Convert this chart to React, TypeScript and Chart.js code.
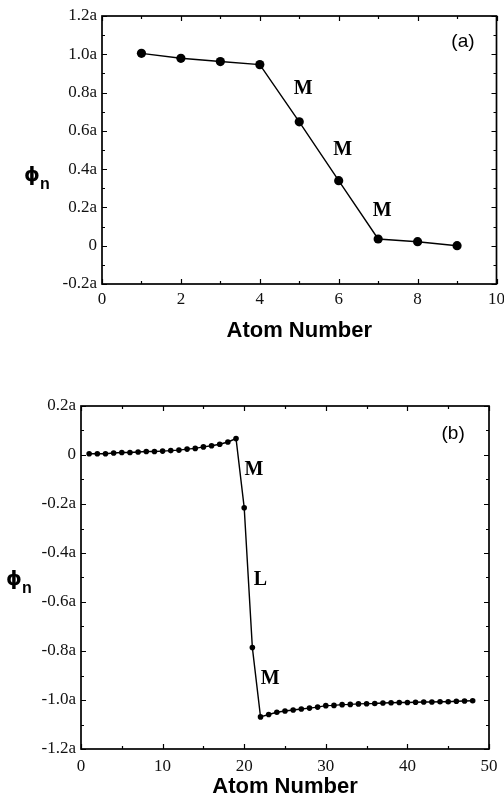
import { useEffect, useRef } from "react";
import { Chart, registerables } from "chart.js";

Chart.register(...registerables);

// Panel (a): short chain
const atomsA = [1, 2, 3, 4, 5, 6, 7, 8, 9];
const phiA = [1.005, 0.979, 0.962, 0.946, 0.647, 0.34, 0.035, 0.021, 0.0];

// Panel (b): long chain
const atomsB = [
  1, 2, 3, 4, 5, 6, 7, 8, 9, 10, 11, 12, 13, 14, 15, 16, 17, 18, 19, 20, 21, 22, 23, 24,
  25, 26, 27, 28, 29, 30, 31, 32, 33, 34, 35, 36, 37, 38, 39, 40, 41, 42, 43, 44, 45, 46, 47, 48,
];
const phiB = [
  0.005, 0.005, 0.005, 0.008, 0.01, 0.01, 0.012, 0.014, 0.014, 0.016, 0.018, 0.02, 0.024,
  0.027, 0.033, 0.038, 0.044, 0.053, 0.067, -0.215, -0.786, -1.069, -1.059, -1.05, -1.045,
  -1.041, -1.037, -1.033, -1.029, -1.023, -1.022, -1.019, -1.018, -1.016, -1.015, -1.014,
  -1.012, -1.011, -1.01, -1.01, -1.009, -1.008, -1.008, -1.007, -1.007, -1.005, -1.004, -1.003,
];

// Axis ranges: [min, max, major step, minor step]
const xRangeA = [0, 10, 2, 1];
const yRangeA = [-0.2, 1.2, 0.2, 0.1];
const xRangeB = [0, 50, 10, 5];
const yRangeB = [-1.2, 0.2, 0.2, 0.1];

const xTitle = "Atom Number";

// Segment labels, in data coordinates
const labelsA = [
  { text: "M", x: 5.1, y: 0.82 },
  { text: "M", x: 6.1, y: 0.5 },
  { text: "M", x: 7.1, y: 0.18 },
];
const labelsB = [
  { text: "M", x: 21.2, y: -0.06 },
  { text: "L", x: 22.0, y: -0.51 },
  { text: "M", x: 23.2, y: -0.915 },
];
const panelTagA = { text: "(a)", x: 9.15, y: 1.065 };
const panelTagB = { text: "(b)", x: 45.6, y: 0.088 };

const SERIF = "'Liberation Serif', 'Times New Roman', serif";
const SANS = "'Liberation Sans', Arial, sans-serif";

type PanelOpts = {
  xr: number[];
  yr: number[];
  labels: { text: string; x: number; y: number }[];
  tag: { text: string; x: number; y: number };
  phiPos: { x: number; y: number };
};

const near = (a: number, b: number) => Math.abs(a - b) < 1e-6;

const panelPlugin = {
  id: "panelDecor",
  afterDraw(chart: any, _args: any, opts: PanelOpts) {
    const { ctx, chartArea: a, scales } = chart;
    const xs = scales.x;
    const ys = scales.y;
    ctx.save();
    ctx.strokeStyle = "#000";
    ctx.fillStyle = "#000";

    // frame
    ctx.lineWidth = 1.7;
    ctx.strokeRect(a.left, a.top, a.right - a.left, a.bottom - a.top);

    // inward tick marks on all four sides
    ctx.lineWidth = 1.2;
    const [x0, x1, xs0, xm] = opts.xr;
    for (let i = 0; x0 + i * xm <= x1 + 1e-9; i++) {
      const v = x0 + i * xm;
      const isMajor = near(Math.round(v / xs0) * xs0, v);
      const len = isMajor ? 5 : 3;
      const px = Math.round(xs.getPixelForValue(v)) + 0.5;
      ctx.beginPath();
      ctx.moveTo(px, a.bottom);
      ctx.lineTo(px, a.bottom - len);
      ctx.moveTo(px, a.top);
      ctx.lineTo(px, a.top + len);
      ctx.stroke();
    }
    const [y0, y1, ys0, ym] = opts.yr;
    for (let i = 0; y0 + i * ym <= y1 + 1e-9; i++) {
      const v = y0 + i * ym;
      const isMajor = near(Math.round(v / ys0) * ys0, v);
      const len = isMajor ? 5 : 3;
      const py = Math.round(ys.getPixelForValue(v)) + 0.5;
      ctx.beginPath();
      ctx.moveTo(a.left, py);
      ctx.lineTo(a.left + len, py);
      ctx.moveTo(a.right, py);
      ctx.lineTo(a.right - len, py);
      ctx.stroke();
    }

    // segment labels
    ctx.textAlign = "center";
    ctx.textBaseline = "middle";
    ctx.font = `bold 20px ${SERIF}`;
    for (const l of opts.labels) {
      ctx.fillText(l.text, xs.getPixelForValue(l.x), ys.getPixelForValue(l.y));
    }

    // panel tag
    ctx.font = `19px ${SANS}`;
    ctx.fillText(opts.tag.text, xs.getPixelForValue(opts.tag.x), ys.getPixelForValue(opts.tag.y));

    // y-axis title: phi with subscript n
    ctx.font = `bold 20px 'DejaVu Sans', ${SANS}`;
    ctx.fillText("ϕ", opts.phiPos.x, opts.phiPos.y);
    ctx.font = `bold 16px ${SANS}`;
    ctx.fillText("n", opts.phiPos.x + 13, opts.phiPos.y + 9);

    ctx.restore();
  },
};

const fmtTick = (v: number) => (Math.abs(v) < 1e-9 ? "0" : v.toFixed(1) + "a");

function buildConfig(
  xsData: number[],
  ysData: number[],
  xr: number[],
  yr: number[],
  box: { left: number; right: number; top: number; bottom: number; w: number; h: number },
  pointRadius: number,
  tickPad: number,
  titlePad: number,
  decor: PanelOpts
): any {
  return {
    type: "line",
    data: {
      datasets: [
        {
          data: xsData.map((x, i) => ({ x, y: ysData[i] })),
          borderColor: "#000",
          backgroundColor: "#000",
          borderWidth: 1.4,
          pointRadius,
          pointBorderWidth: 0,
          pointBackgroundColor: "#000",
          tension: 0,
          clip: false,
        },
      ],
    },
    options: {
      responsive: false,
      animation: false,
      events: [],
      layout: {
        padding: { left: 0, top: box.top, right: box.w - box.right, bottom: 0 },
      },
      plugins: {
        legend: { display: false },
        tooltip: { enabled: false },
        panelDecor: decor,
      },
      scales: {
        x: {
          type: "linear",
          min: xr[0],
          max: xr[1],
          grid: { display: false, drawTicks: false },
          border: { display: false },
          ticks: {
            stepSize: xr[2],
            color: "#111",
            padding: tickPad,
            maxRotation: 0,
            autoSkip: false,
            font: { family: SERIF, size: 17 },
          },
          title: {
            display: true,
            text: xTitle,
            color: "#000",
            font: { family: SANS, size: 22, weight: "bold" },
            padding: { top: 0, bottom: titlePad },
          },
          afterFit(s: any) {
            s.height = box.h - box.bottom;
            s.paddingLeft = 0;
            s.paddingRight = 0;
          },
        },
        y: {
          min: yr[0],
          max: yr[1],
          grid: { display: false, drawTicks: false },
          border: { display: false },
          ticks: {
            stepSize: yr[2],
            color: "#111",
            padding: 5,
            autoSkip: false,
            font: { family: SERIF, size: 17 },
            callback: (v: number) => fmtTick(v),
          },
          afterFit(s: any) {
            s.width = box.left;
            s.paddingTop = 0;
            s.paddingBottom = 0;
          },
        },
      },
    },
    plugins: [panelPlugin],
  };
}

export default function App() {
  const refA = useRef<HTMLCanvasElement | null>(null);
  const refB = useRef<HTMLCanvasElement | null>(null);

  useEffect(() => {
    if (!refA.current || !refB.current) return;
    const chartA = new Chart(
      refA.current,
      buildConfig(
        atomsA,
        phiA,
        xRangeA,
        yRangeA,
        { left: 102, right: 496.5, top: 16, bottom: 284, w: 504, h: 390 },
        4.6,
        5,
        46,
        { xr: xRangeA, yr: yRangeA, labels: labelsA, tag: panelTagA, phiPos: { x: 32, y: 176 } }
      )
    );
    const chartB = new Chart(
      refB.current,
      buildConfig(
        atomsB,
        phiB,
        xRangeB,
        yRangeB,
        { left: 81, right: 489, top: 16, bottom: 359, w: 504, h: 410 },
        2.8,
        7,
        0,
        { xr: xRangeB, yr: yRangeB, labels: labelsB, tag: panelTagB, phiPos: { x: 14, y: 190 } }
      )
    );
    return () => {
      chartA.destroy();
      chartB.destroy();
    };
  }, []);

  return (
    <div style={{ position: "absolute", left: 0, top: 0, width: 504, height: 795, overflow: "hidden", background: "#fff" }}>
      <canvas ref={refA} width={504} height={390} style={{ position: "absolute", left: 0, top: 0, display: "block" }} />
      <canvas ref={refB} width={504} height={410} style={{ position: "absolute", left: 0, top: 390, display: "block" }} />
    </div>
  );
}
